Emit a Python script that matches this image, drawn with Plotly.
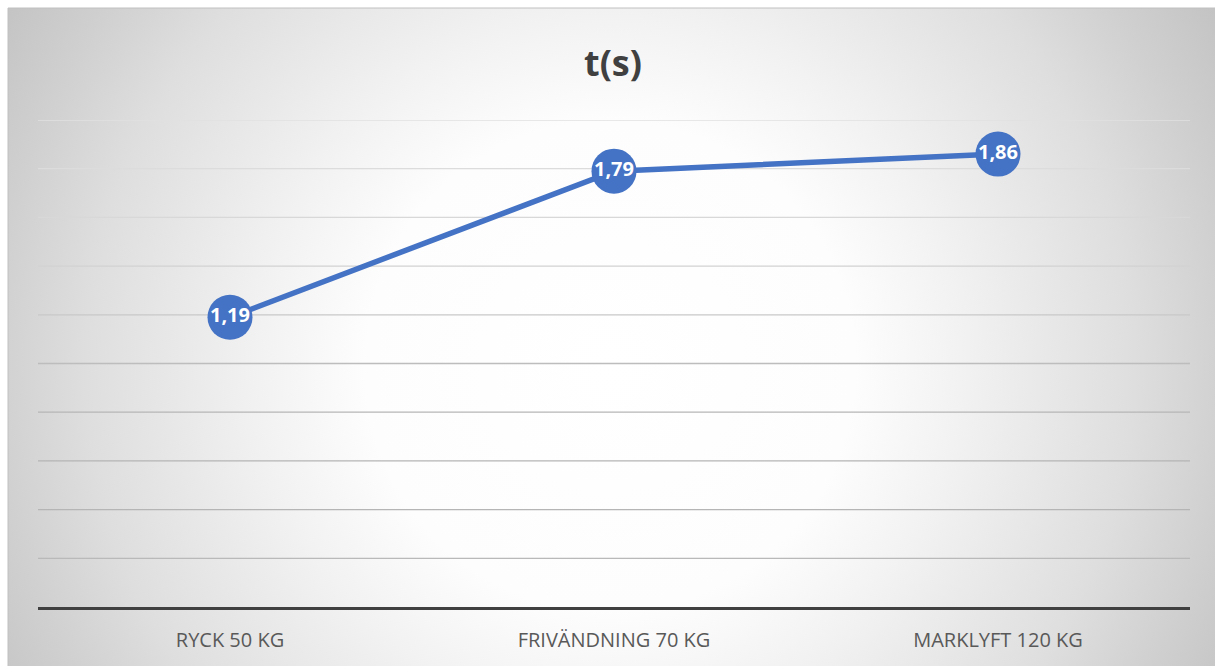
import plotly.graph_objects as go

# ---- data ----
categories = ["RYCK 50 KG", "FRIVÄNDNING 70 KG", "MARKLYFT 120 KG"]
times = [1.19, 1.79, 1.86]
y_ticks = [0.2, 0.4, 0.6, 0.8, 1.0, 1.2, 1.4, 1.6, 1.8, 2.0]
grid_colors = ["#b9b9b9", "#b5b5b5", "#b4b4b4", "#b6b6b6", "#bdbdbd",
               "#c8c8c8", "#d2d2d2", "#d8d8d8", "#dcdcdc", "#e0e0e0"]
title_text = "t(s)"

W, H = 1215, 666
labels = [f"{v:.2f}".replace(".", ",") for v in times]

fig = go.Figure()

# background radial gradient (clipped to chart box)
cx, cy, half = 610, 300, 700
fig.add_trace(go.Scatter(
    x=[cx - half, cx + half, cx + half, cx - half, cx - half],
    y=[cy - half, cy - half, cy + half, cy + half, cy - half],
    mode="none", fill="toself",
    fillgradient=dict(type="radial", colorscale=[
        [0.0, "#ffffff"], [0.35, "#fdfdfd"], [0.5, "#f2f2f2"],
        [0.75, "#dedede"], [0.88, "#d0d0d0"], [1.0, "#c4c4c4"]]),
    hoverinfo="skip", showlegend=False, xaxis="x", yaxis="y"))

# data line
fig.add_trace(go.Scatter(
    x=categories, y=times, mode="lines+markers+text",
    line=dict(color="#4472C4", width=5.5),
    marker=dict(size=45, color="#4472C4"),
    text=labels, textposition="middle center",
    textfont=dict(family="Open Sans", size=20, color="white", weight="bold"),
    cliponaxis=False, showlegend=False, xaxis="x2", yaxis="y2"))

left, right, top, bottom = 38, 1190, 120, 607
fig.update_layout(
    width=W, height=H,
    margin=dict(l=0, r=0, t=0, b=0),
    paper_bgcolor="white", plot_bgcolor="rgba(0,0,0,0)",
    xaxis=dict(domain=[8 / W, 1], range=[8, W], visible=False, fixedrange=True),
    yaxis=dict(domain=[0, 1 - 8 / H], range=[0, H - 8], visible=False, fixedrange=True),
    xaxis2=dict(domain=[left / W, right / W], anchor="y2", type="category",
                range=[-0.5, len(categories) - 0.5], showgrid=False, zeroline=False,
                showline=True, linecolor="#404040", linewidth=3,
                ticks="", ticklabelstandoff=13,
                tickfont=dict(family="Open Sans", size=20, color="#595959")),
    yaxis2=dict(domain=[(H - bottom) / H, (H - top) / H], anchor="x2",
                range=[0, 2], showgrid=False, zeroline=False,
                showticklabels=False, showline=False),
    title=dict(text=title_text, x=613 / W, xanchor="center",
               y=1 - 63 / H, yanchor="middle",
               font=dict(family="Open Sans", size=36, color="#404040", weight="bold")),
)
for v, c in zip(y_ticks, grid_colors):
    fig.add_shape(type="line", xref="x2", yref="y2",
                  x0=-0.5, x1=len(categories) - 0.5, y0=v, y1=v, layer="below",
                  line=dict(color=c, width=1.3))
# chart box border
fig.add_shape(type="rect", xref="paper", yref="paper",
              x0=8 / W, x1=1.01, y0=-0.01, y1=1 - 8 / H,
              line=dict(color="#c0c0c0", width=1), layer="above")

fig.write_html("out.html")
